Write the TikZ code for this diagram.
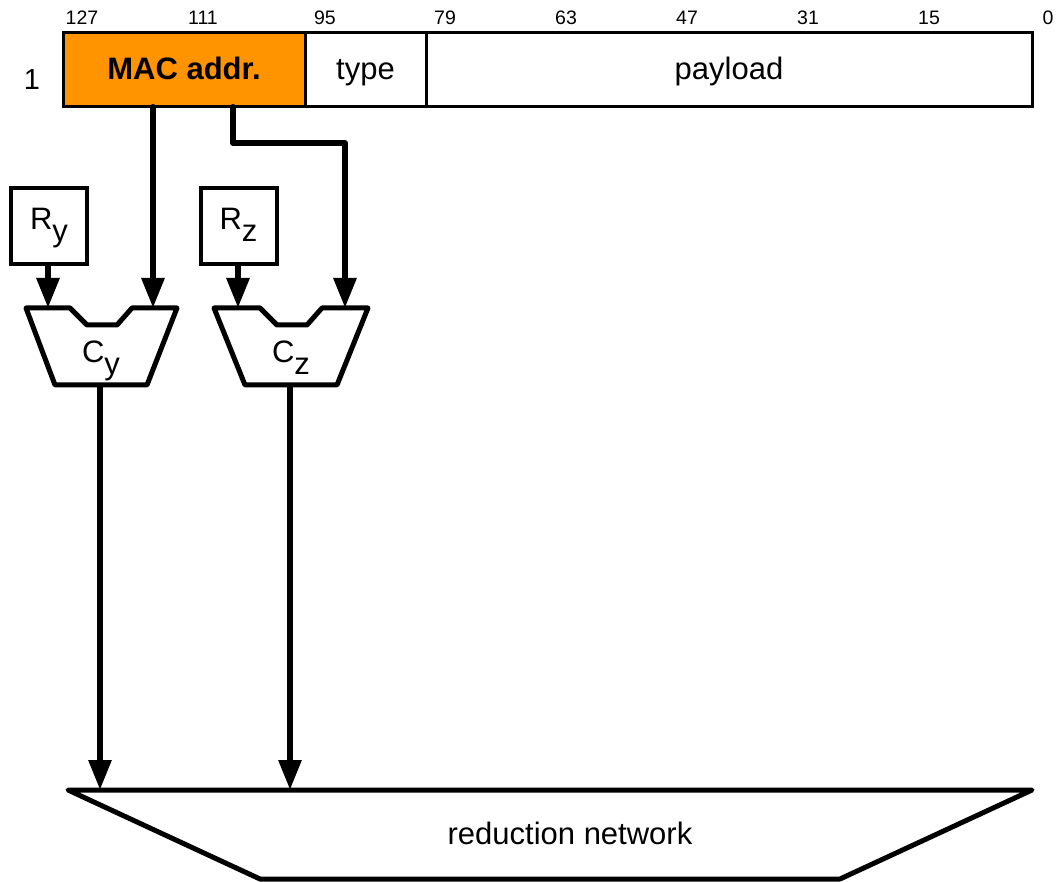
\documentclass[tikz,border=0pt]{standalone}
\usepackage{fontspec}
\setmainfont{Liberation Sans}
\usetikzlibrary{arrows.meta}
\begin{document}
\begin{tikzpicture}[x=1pt,y=-1pt,
  field/.style={draw,line width=3pt,minimum height=74pt,inner sep=0pt,text height=24pt,text depth=3pt,font=\fontsize{31}{36}\selectfont},
  bitlbl/.style={font=\fontsize{19.5}{22}\selectfont,inner sep=0pt,anchor=base},
  regbox/.style={draw,line width=4pt,minimum width=76pt,minimum height=76pt,inner sep=0pt},
  lbl/.style={font=\fontsize{31}{36}\selectfont,inner sep=0pt,anchor=base},
  shp/.style={line width=5pt,line join=round},
  arr/.style={line width=6pt,line cap=round,line join=round,-{Triangle[length=30pt,width=22pt]}}]
\useasboundingbox (0,0) rectangle (1058,882);
\definecolor{macorange}{RGB}{255,147,0}
% header bar
\node[field,fill=macorange,minimum width=242pt,font=\fontsize{31}{36}\selectfont\bfseries] (mac) at (184,69.5) {MAC addr.};
\node[field,minimum width=121pt] (type) at (365.5,69.5) {type};
\node[field,minimum width=606pt] (payload) at (729,69.5) {payload};
\node[lbl,font=\fontsize{29}{34}\selectfont] (row) at (32,90) {1};
% bit labels
\foreach \b/\x in {127/82,111/203,95/325,79/445,63/566,47/687,31/808,15/929,0/1048}
  \node[bitlbl] (bit\b) at (\x,25) {\b};
% registers
\node[regbox] (ry) at (49,226) {};
\node[lbl] (rylbl) at (49,230) {R\raisebox{-12pt}{y}};
\node[regbox] (rz) at (238.5,226) {};
\node[lbl] (rzlbl) at (238.5,230) {R\raisebox{-12pt}{z}};
% comparators
\draw[shp] (26,308) -- (70,308) -- (87,325) -- (117,325) -- (132,308) -- (177,308) -- (147,385) -- (55,385) -- cycle;
\node[lbl] (cy) at (101,363) {C\raisebox{-12pt}{y}};
\draw[shp] (214,308) -- (260,308) -- (277,325) -- (307,325) -- (322,308) -- (368,308) -- (337,385) -- (245,385) -- cycle;
\node[lbl] (cz) at (291,363) {C\raisebox{-12pt}{z}};
% reduction network
\draw[shp] (68,790) -- (1032,790) -- (840,879) -- (260,879) -- cycle;
\node[lbl] (red) at (570,844) {reduction network};
% ports
\coordinate (cyIn1) at (48,308);
\coordinate (cyIn2) at (153,308);
\coordinate (czIn1) at (238,308);
\coordinate (czIn2) at (345,308);
\coordinate (macOut1) at (153,107);
\coordinate (macOut2) at (233,107);
\coordinate (bend1) at (233,143);
\coordinate (bend2) at (345,143);
\coordinate (cyOut) at (100,387);
\coordinate (czOut) at (290,387);
\coordinate (redIn1) at (100,790);
\coordinate (redIn2) at (290,790);
% connectors
\draw[arr] (macOut1) -- (cyIn2);
\draw[arr] (macOut2) -- (bend1) -- (bend2) -- (czIn2);
\draw[arr] (ry.south -| cyIn1) -- (cyIn1);
\draw[arr] (rz.south -| czIn1) -- (czIn1);
\draw[arr,line cap=butt] (cyOut) -- (redIn1);
\draw[arr,line cap=butt] (czOut) -- (redIn2);
\end{tikzpicture}
\end{document}
